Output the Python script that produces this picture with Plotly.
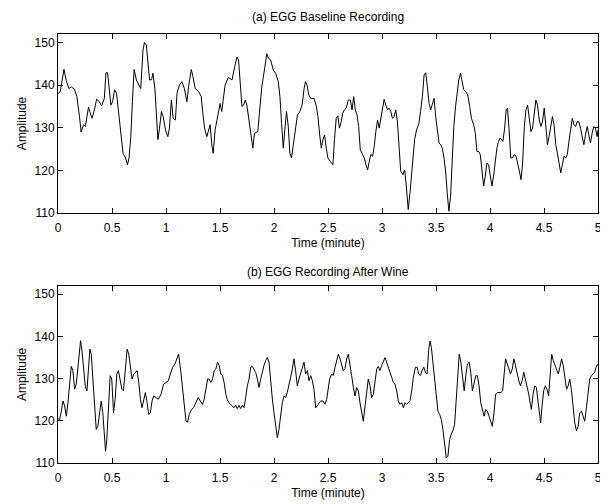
import plotly.graph_objects as go

# ---- (a) baseline recording ----
time_a = [0.0, 0.021, 0.055, 0.077, 0.101, 0.123, 0.153, 0.175, 0.199, 0.214, 0.236, 0.254, 0.282,
          0.297, 0.315, 0.337, 0.358, 0.383, 0.404, 0.429, 0.444, 0.459, 0.475, 0.49, 0.505, 0.524,
          0.542, 0.562, 0.583, 0.602, 0.625, 0.643, 0.658, 0.674, 0.689, 0.705, 0.726, 0.75, 0.766,
          0.787, 0.8, 0.818, 0.833, 0.848, 0.867, 0.879, 0.897, 0.909, 0.925, 0.94, 0.958, 0.974,
          0.995, 1.017, 1.032, 1.05, 1.066, 1.087, 1.102, 1.124, 1.148, 1.17, 1.194, 1.209, 1.234,
          1.249, 1.271, 1.302, 1.326, 1.341, 1.357, 1.378, 1.394, 1.409, 1.424, 1.437, 1.455,
          1.476, 1.501, 1.516, 1.534, 1.547, 1.577,
          1.611, 1.636, 1.657, 1.672, 1.688, 1.703, 1.718, 1.734, 1.749, 1.77, 1.789, 1.804, 1.819,
          1.85, 1.865, 1.887, 1.911, 1.933, 1.948, 1.969, 1.994, 2.015, 2.04, 2.055, 2.07, 2.086,
          2.1, 2.116, 2.132, 2.147, 2.162, 2.178, 2.193, 2.217, 2.239, 2.26, 2.279, 2.291, 2.306,
          2.322, 2.34, 2.371, 2.392, 2.407, 2.423, 2.438, 2.453, 2.468, 2.484, 2.499, 2.521, 2.545,
          2.56, 2.576, 2.591, 2.606, 2.622, 2.637, 2.652, 2.668, 2.689, 2.707, 2.723, 2.738, 2.753,
          2.769, 2.784, 2.799, 2.821, 2.836, 2.851, 2.867, 2.882, 2.897, 2.913, 2.928, 2.943, 2.959,
          2.974, 2.989, 3.005, 3.02, 3.035, 3.051, 3.066, 3.081, 3.097, 3.112, 3.127, 3.143, 3.158,
          3.173, 3.194, 3.21, 3.225, 3.243, 3.259, 3.28, 3.302, 3.32, 3.341, 3.357, 3.374,
          3.39, 3.405, 3.42, 3.436, 3.451, 3.466, 3.482, 3.497, 3.512, 3.528, 3.543, 3.558, 3.574,
          3.589, 3.604, 3.619, 3.635, 3.65, 3.665, 3.681, 3.696, 3.711, 3.727, 3.742, 3.757, 3.773,
          3.794, 3.812, 3.828, 3.849, 3.864, 3.879, 3.895, 3.91, 3.926, 3.941, 3.956, 3.972, 3.987,
          4.002, 4.018, 4.033, 4.048, 4.064, 4.079, 4.094, 4.119, 4.134, 4.15, 4.162, 4.177, 4.192,
          4.208, 4.223, 4.241, 4.257, 4.272, 4.287, 4.302, 4.318, 4.333, 4.348, 4.364, 4.379, 4.394,
          4.41, 4.425, 4.44, 4.456, 4.471, 4.486, 4.502, 4.517, 4.532, 4.547, 4.563, 4.578, 4.593,
          4.609, 4.624, 4.639, 4.655, 4.67, 4.685, 4.701, 4.716, 4.731, 4.747, 4.762, 4.777, 4.793,
          4.808, 4.823, 4.838, 4.854, 4.869, 4.884, 4.9, 4.915, 4.93, 4.946, 4.961, 4.976, 4.992, 5.0]
amp_a = [138.0, 138.5, 143.7, 141.0, 139.2, 139.6, 139.0, 137.3, 132.6, 129.0, 130.7, 130.3, 134.8,
         133.8, 132.2, 134.2, 136.7, 136.1, 135.1, 136.9, 142.9, 142.9, 138.9, 135.3, 136.1, 138.9,
         138.1, 133.4, 128.3, 124.0, 122.9, 121.3, 122.9, 127.9, 136.1, 143.7, 141.2, 140.0, 139.2,
         148.2, 150.0, 149.4, 145.0, 141.2, 141.3, 142.8, 139.2, 135.0, 127.2, 129.9, 133.8, 132.6,
         129.5, 127.9, 129.9, 136.5, 132.2, 131.8, 138.1, 140.0, 140.8, 139.2, 136.1, 139.6, 143.7,
         142.0, 139.2, 138.5, 137.3, 133.4, 129.9, 127.9, 129.1, 130.7, 126.0, 124.0, 129.5,
         132.2, 135.7, 133.8, 137.3, 140.0, 141.8,
         141.2, 144.3, 146.6, 145.9, 140.4, 135.0, 135.3, 136.5, 135.3, 131.0, 127.9, 125.2, 128.7,
         129.1, 133.4, 139.6, 143.5, 147.4, 146.3, 145.9, 143.5, 142.8, 140.8, 137.3, 131.0, 125.2,
         129.5, 133.8, 130.3, 124.0, 122.9, 125.6, 128.7, 133.0, 133.8, 135.3, 139.2, 140.8, 140.0,
         137.7, 136.9, 136.9, 135.0, 132.6, 128.3, 125.2, 127.2, 128.3, 125.2, 122.9, 122.1, 121.3,
         127.2, 132.2, 132.8, 129.9, 131.4, 133.4, 134.2, 134.6, 136.5, 136.5, 134.2, 137.3, 134.2,
         133.0, 130.3, 124.8, 123.7, 122.9, 121.3, 120.1, 122.1, 123.7, 123.3, 125.6, 129.1, 131.8,
         129.9, 132.2, 135.3, 136.7, 135.3, 134.2, 134.6, 133.8, 132.2, 132.6, 134.2, 131.4, 125.6,
         119.8, 119.0, 120.1, 116.3, 110.8, 114.7, 121.7, 127.2, 129.5, 131.0, 133.8, 137.3,
         142.4, 142.9, 139.6, 135.7, 134.2, 135.3, 136.9, 132.6, 129.1, 126.4, 126.0, 125.2, 122.9,
         119.8, 114.7, 110.4, 113.9, 122.5, 130.3, 135.0, 138.5, 141.2, 142.8, 140.4, 138.9, 138.5,
         137.7, 135.0, 132.2, 130.7, 128.7, 124.4, 124.4, 123.7, 120.1, 116.3, 118.6, 121.7, 121.3,
         119.0, 116.3, 118.6, 121.7, 125.2, 126.8, 127.6, 126.8, 129.5, 134.2, 134.6, 129.5, 122.9,
         122.9, 123.7, 123.3, 121.7, 119.8, 117.8, 121.7, 130.3, 134.2, 135.3, 131.8, 129.1, 129.9,
         134.2, 136.5, 135.3, 131.8, 130.3, 131.4, 134.6, 130.3, 126.0, 127.9, 131.0, 132.6, 130.7,
         126.0, 124.0, 122.1, 119.4, 121.3, 123.3, 122.9, 123.7, 126.8, 129.5, 132.2, 130.7, 130.3,
         131.4, 131.4, 129.9, 127.9, 126.0, 128.3, 130.3, 128.3, 126.4, 128.7, 130.3, 129.9, 127.9, 129.5]

# ---- (b) after wine ----
time_b = [0.0, 0.015, 0.031, 0.046, 0.062, 0.077, 0.092, 0.108, 0.123, 0.138, 0.154, 0.169, 0.185,
          0.2, 0.209, 0.222, 0.237, 0.252, 0.268, 0.283, 0.295, 0.308, 0.323, 0.338, 0.354, 0.369,
          0.385, 0.4, 0.415, 0.431, 0.44, 0.452, 0.468, 0.483, 0.498, 0.514, 0.529, 0.545, 0.56,
          0.575, 0.591, 0.606, 0.622, 0.64, 0.655, 0.671, 0.686, 0.702, 0.717, 0.732, 0.748, 0.763,
          0.778, 0.794, 0.809, 0.825, 0.84, 0.855, 0.871, 0.886, 0.908, 0.929, 0.954, 0.978, 1.0,
          1.022, 1.04, 1.062, 1.083, 1.102, 1.117, 1.138, 1.154, 1.169, 1.185, 1.2, 1.215, 1.237,
          1.255, 1.277, 1.298, 1.317, 1.338, 1.354, 1.369, 1.385, 1.4, 1.415, 1.431, 1.446, 1.462,
          1.477, 1.492, 1.508, 1.523, 1.538, 1.554,
          1.568, 1.583, 1.608, 1.63, 1.645, 1.66, 1.676, 1.691, 1.707, 1.722, 1.738, 1.753, 1.769,
          1.784, 1.799, 1.815, 1.83, 1.846, 1.861, 1.877, 1.892, 1.907, 1.923, 1.938, 1.954, 1.969,
          1.985, 2.0, 2.015, 2.031, 2.046, 2.062, 2.077, 2.093, 2.108, 2.123, 2.139, 2.154, 2.17,
          2.185, 2.2, 2.216, 2.231, 2.247, 2.262, 2.278, 2.293, 2.309, 2.324, 2.34, 2.355, 2.37,
          2.386, 2.401, 2.417, 2.432, 2.454, 2.472, 2.488, 2.503, 2.515, 2.534, 2.549, 2.565, 2.58,
          2.596, 2.611, 2.627, 2.642, 2.657, 2.673, 2.688, 2.704, 2.719, 2.735, 2.75, 2.765, 2.781,
          2.796, 2.812, 2.827, 2.843, 2.858, 2.873, 2.889, 2.904, 2.92, 2.935, 2.951, 2.966, 2.981,
          2.997, 3.012, 3.028, 3.043, 3.059, 3.074, 3.09, 3.105, 3.12, 3.136, 3.151, 3.167, 3.182,
          3.198, 3.213, 3.228, 3.244, 3.259, 3.275, 3.29,
          3.31, 3.325, 3.34, 3.356, 3.371, 3.387, 3.402, 3.417, 3.433, 3.445, 3.457, 3.472, 3.488,
          3.503, 3.518, 3.534, 3.549, 3.564, 3.58, 3.595, 3.61, 3.626, 3.641, 3.656, 3.672, 3.687,
          3.702, 3.715, 3.73, 3.745, 3.761, 3.776, 3.791, 3.807, 3.822, 3.837, 3.853, 3.868, 3.883,
          3.899, 3.914, 3.929, 3.945, 3.96, 3.975, 3.991, 4.006, 4.021, 4.037, 4.052, 4.067, 4.083,
          4.101, 4.117, 4.132, 4.144, 4.16, 4.175, 4.19, 4.206, 4.221, 4.236, 4.252, 4.267, 4.282,
          4.298, 4.313, 4.328, 4.344, 4.359, 4.374, 4.383, 4.399, 4.414, 4.429, 4.445, 4.46, 4.469,
          4.482, 4.497, 4.512, 4.528, 4.543, 4.558, 4.571, 4.586, 4.601, 4.617, 4.632, 4.647, 4.663,
          4.678, 4.693, 4.709, 4.724, 4.739, 4.755, 4.77, 4.785, 4.801, 4.816, 4.831, 4.847, 4.862,
          4.877, 4.893, 4.908, 4.923, 4.939, 4.954, 4.969, 4.982, 5.0]
amp_b = [120.5, 120.3, 122.3, 124.7, 123.5, 121.1, 124.3, 129.9, 132.9, 131.9, 127.5, 128.7, 133.1,
         137.8, 139.0, 136.6, 132.3, 128.3, 127.1, 132.7, 137.0, 135.8, 130.7, 123.5, 118.0, 118.7,
         121.9, 124.7, 121.9, 116.4, 112.8, 115.6, 123.5, 130.7, 129.9, 121.9, 125.1, 131.1, 131.9,
         129.5, 127.5, 127.1, 132.3, 137.0, 135.8, 133.1, 129.9, 131.1, 131.5, 131.9, 129.1, 125.1,
         123.1, 125.5, 126.7, 124.3, 121.5, 121.9, 124.7, 125.9, 125.5, 125.1, 126.3, 128.7, 129.1,
         129.5, 131.1, 132.7, 133.5, 135.0, 135.8, 131.5, 127.1, 123.5, 119.9, 119.7, 121.5, 122.7,
         123.1, 124.3, 125.5, 124.7, 123.9, 125.1, 127.1, 129.9, 129.9, 129.1, 129.9, 131.9, 132.3,
         133.9, 133.1, 131.1, 130.7, 129.1, 126.3,
         125.0, 124.3, 123.7, 123.1, 123.7, 122.9, 123.7, 122.9, 123.7, 123.1, 125.5, 128.3, 129.9,
         132.7, 132.9, 132.3, 131.5, 129.9, 127.9, 129.9, 131.9, 133.1, 134.3, 135.0, 133.9, 129.1,
         125.1, 121.9, 118.3, 116.0, 118.0, 121.9, 124.3, 125.9, 125.5, 126.7, 129.1, 130.3, 132.3,
         134.7, 131.9, 128.3, 129.9, 131.5, 132.3, 133.9, 131.1, 131.9, 129.5, 130.7, 129.5, 127.5,
         123.1, 123.7, 124.3, 124.7, 124.7, 123.9, 125.1, 127.5, 129.9, 131.1, 130.7, 132.7, 134.3,
         135.8, 134.7, 133.1, 131.9, 132.3, 134.7, 135.8, 133.5, 130.7, 127.9, 125.9, 127.9, 127.1,
         124.3, 122.3, 119.9, 123.5, 127.5, 129.9, 128.3, 125.5, 126.3, 129.9, 132.3, 132.9, 131.9,
         133.1, 133.9, 135.0, 133.9, 132.3, 131.5, 130.3, 129.1, 128.7, 127.1, 124.7, 123.9, 124.3,
         123.1, 124.3, 123.9, 124.3, 124.7, 127.1, 130.3,
         132.7, 132.7, 131.1, 130.7, 131.9, 132.7, 131.5, 131.1, 137.0, 138.9, 137.4, 133.9, 129.9,
         125.5, 122.3, 121.5, 120.3, 118.0, 114.8, 111.2, 111.6, 115.6, 116.8, 117.6, 119.1, 125.1,
         131.5, 135.8, 133.9, 129.9, 127.1, 130.7, 133.5, 133.9, 131.5, 127.1, 128.7, 130.7, 130.7,
         128.3, 124.3, 122.3, 121.1, 122.7, 122.3, 121.1, 119.9, 118.7, 121.9, 126.3, 126.7, 126.7,
         126.7, 127.1, 131.1, 134.7, 133.5, 132.3, 131.1, 132.3, 134.7, 133.1, 130.7, 129.5, 128.3,
         129.5, 131.5, 129.9, 128.3, 126.3, 123.9, 122.7, 126.3, 128.3, 127.9, 124.7, 121.9, 119.5,
         123.5, 127.1, 128.3, 127.5, 125.9, 131.1, 135.8, 134.3, 133.1, 131.9, 131.1, 132.7, 134.7,
         133.1, 130.7, 127.5, 128.3, 129.9, 127.1, 123.5, 119.5, 117.6, 118.7, 121.9, 122.3, 121.1,
         119.9, 123.1, 127.5, 129.9, 130.7, 131.1, 131.5, 132.7, 133.5]

x_ticks = [0, 0.5, 1, 1.5, 2, 2.5, 3, 3.5, 4, 4.5, 5]
x_tick_labels = ["0", "0.5", "1", "1.5", "2", "2.5", "3", "3.5", "4", "4.5", "5"]
y_ticks = [110, 120, 130, 140, 150]
titles = ["(a) EGG Baseline Recording", "(b) EGG Recording After Wine"]
x_title = "Time (minute)"
y_title = "Amplitude"

FONT = "Liberation Sans, Arial, sans-serif"

fig = go.Figure()
fig.add_trace(go.Scatter(x=time_a, y=amp_a, mode="lines", xaxis="x", yaxis="y",
                         line=dict(color="black", width=1), showlegend=False))
fig.add_trace(go.Scatter(x=time_b, y=amp_b, mode="lines", xaxis="x2", yaxis="y2",
                         line=dict(color="black", width=1), showlegend=False))

axis_common = dict(showline=True, linecolor="black", linewidth=1, mirror="ticks",
                   ticks="inside", ticklen=5, tickcolor="black", showgrid=False, zeroline=False,
                   ticklabeloverflow="allow",
                   tickfont=dict(family=FONT, size=12, color="black"))

xa = dict(range=[0, 5], tickvals=x_ticks, ticktext=x_tick_labels, ticklabelstandoff=4,
          title=dict(text=x_title, font=dict(family=FONT, size=12, color="black"), standoff=4),
          **axis_common)
ya = dict(range=[110, 152], tickvals=y_ticks,
          title=dict(text=y_title, font=dict(family=FONT, size=12, color="black"), standoff=5),
          **axis_common)

# the page body adds an 8px offset, so the figure is 600x496 and margins are adjusted
fig.update_layout(
    width=600, height=496,
    margin=dict(l=50, r=6, t=26, b=41),
    paper_bgcolor="white", plot_bgcolor="white",
    xaxis=dict(domain=[0, 1], anchor="y", **xa),
    yaxis=dict(domain=[0.583, 1], anchor="x", **ya),
    xaxis2=dict(domain=[0, 1], anchor="y2", **xa),
    yaxis2=dict(domain=[0, 0.413], anchor="x2", **ya),
    annotations=[
        dict(text=titles[0], x=0.5, y=1, xref="paper", yref="paper", xanchor="center",
             yanchor="bottom", yshift=8, showarrow=False,
             font=dict(family=FONT, size=12, color="black")),
        dict(text=titles[1], x=0.5, y=0.413, xref="paper", yref="paper", xanchor="center",
             yanchor="bottom", yshift=5, showarrow=False,
             font=dict(family=FONT, size=12, color="black")),
    ],
)

fig.write_html("out.html")
